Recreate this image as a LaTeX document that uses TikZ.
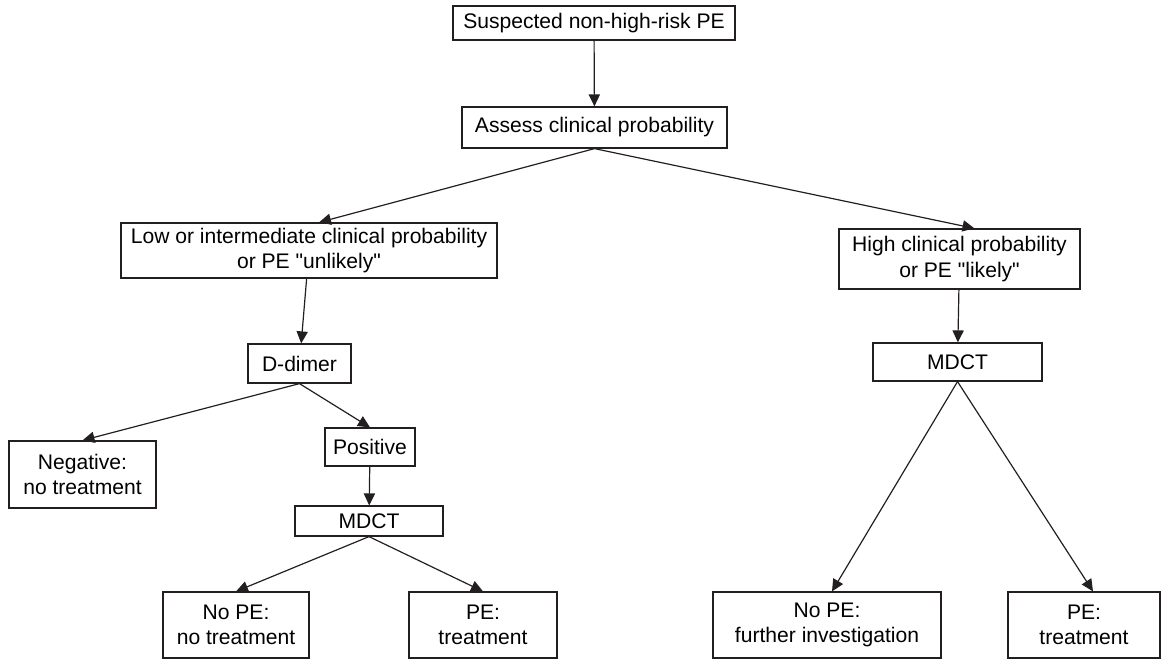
\documentclass[tikz,border=0pt]{standalone}
\usepackage{fontspec}
\setmainfont{Liberation Sans}
\usetikzlibrary{arrows.meta}

\begin{document}
\begin{tikzpicture}[x=0.025cm, y=-0.025cm,
    box/.style={draw=borderColour, line width=0.85pt, align=center, inner sep=0pt,
        font=\fontsize{15}{18}\selectfont},
    flow/.style={draw=borderColour, line width=0.85pt, -{Triangle[length=0.3cm, width=0.28cm]}}]

    \definecolor{borderColour}{HTML}{231F20}

    \useasboundingbox (0,0) rectangle (1168,659);

    % Top of the chart
    \node[box, minimum width=7.05cm, minimum height=0.85cm] (suspected) at (594,23) {Suspected non-high-risk PE};
    \node[box, minimum width=6.625cm, minimum height=1.025cm] (assess) at (594.5,127.5) {Assess clinical probability};

    % Low or intermediate probability branch
    \node[box, minimum width=9.4cm, minimum height=1.375cm] (low) at (309,250.5) {Low or intermediate clinical probability\\or PE \textquotedbl unlikely\textquotedbl};
    \node[box, minimum width=2.575cm, minimum height=0.975cm] (ddimer) at (299.5,363.5) {D-dimer};
    \node[box, minimum width=3.675cm, minimum height=1.675cm] (negative) at (82.5,474.5) {Negative:\\no treatment};
    \node[box, minimum width=2.25cm, minimum height=0.95cm] (positive) at (370,447) {Positive};
    \node[box, minimum width=3.7cm, minimum height=0.75cm] (mdctLow) at (369,521) {MDCT};
    \node[box, minimum width=3.65cm, minimum height=1.65cm] (noPeLow) at (236,625) {No PE:\\no treatment};
    \node[box, minimum width=3.7cm, minimum height=1.65cm] (peLow) at (483,625) {PE:\\treatment};

    % High probability branch
    \node[box, minimum width=6.025cm, minimum height=1.5cm] (high) at (959.5,259) {High clinical probability\\or PE \textquotedbl likely\textquotedbl};
    \node[box, minimum width=4.225cm, minimum height=0.95cm] (mdctHigh) at (957.5,362) {MDCT};
    \node[box, minimum width=5.7cm, minimum height=1.65cm] (noPeHigh) at (827,625) {No PE:\\further investigation};
    \node[box, minimum width=3.8cm, minimum height=1.65cm] (peHigh) at (1084,625) {PE:\\treatment};

    % Draw connectors
    \draw[flow] (suspected) -- (assess);
    \draw[flow] (assess.south) -- ([xshift=0.25cm]low.north);
    \draw[flow] (assess.south) -- ([xshift=0.375cm]high.north);
    \draw[flow] (low) -- (ddimer);
    \draw[flow] (ddimer.south) -- (negative.north);
    \draw[flow] (ddimer.south) -- (positive.north);
    \draw[flow] (positive) -- (mdctLow);
    \draw[flow] (mdctLow.south) -- (noPeLow.north);
    \draw[flow] (mdctLow.south) -- (peLow.north);
    \draw[flow] (high) -- (mdctHigh);
    \draw[flow] (mdctHigh.south) -- ([xshift=0.125cm]noPeHigh.north);
    \draw[flow] (mdctHigh.south) -- ([xshift=0.225cm]peHigh.north);

\end{tikzpicture}
\end{document}
